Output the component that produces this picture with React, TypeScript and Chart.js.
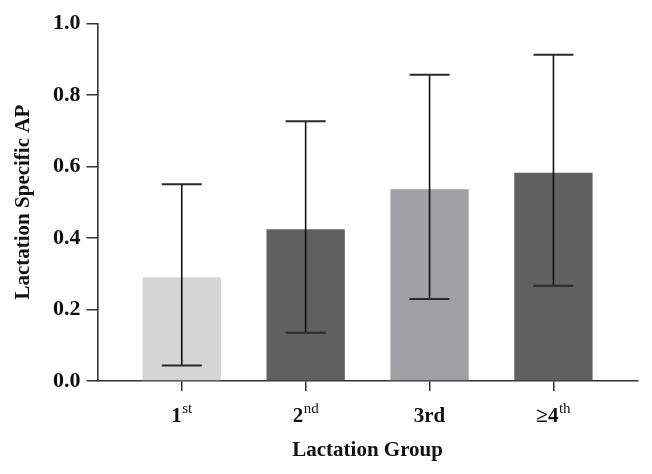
import React, { useEffect, useRef } from "react";
import { Chart, registerables } from "chart.js";

Chart.register(...registerables);

// ---- data ----
const groupMain = ["1", "2", "3rd", "≥4"];
const groupSup = ["st", "nd", "", "th"];
const groupPos = [1, 2, 3, 4];
const meanAP = [0.29, 0.424, 0.536, 0.582];
const errLower = [0.043, 0.135, 0.229, 0.266];
const errUpper = [0.55, 0.726, 0.856, 0.912];
const yTitle = "Lactation Specific AP";
const xTitle = "Lactation Group";

// ---- styles ----
const barColors = ["#d5d5d5", "#606060", "#a1a0a5", "#606060"];
const FONT = "'Liberation Serif', 'Times New Roman', serif";
const AXIS = "#333333";

const errorBarPlugin = {
  id: "errorBars",
  afterDatasetsDraw(chart: any) {
    const { ctx } = chart;
    const xs = chart.scales.x;
    const ys = chart.scales.y;
    ctx.save();
    groupPos.forEach((p, i) => {
      const x = xs.getPixelForValue(p);
      const yl = ys.getPixelForValue(errLower[i]);
      const yh = ys.getPixelForValue(errUpper[i]);
      ctx.strokeStyle = "#111";
      ctx.lineWidth = 1.6;
      ctx.beginPath();
      ctx.moveTo(x, yl);
      ctx.lineTo(x, yh);
      ctx.stroke();
      ctx.strokeStyle = "#2a2a2a";
      ctx.lineWidth = 2;
      ctx.beginPath();
      ctx.moveTo(x - 20, yh);
      ctx.lineTo(x + 20, yh);
      ctx.moveTo(x - 20, yl);
      ctx.lineTo(x + 20, yl);
      ctx.stroke();
    });
    ctx.restore();
  },
};

const xLabelPlugin = {
  id: "xLabels",
  afterDraw(chart: any) {
    const { ctx, chartArea } = chart;
    const xs = chart.scales.x;
    const baseline = chartArea.bottom + 40.7;
    ctx.save();
    ctx.fillStyle = "#111";
    ctx.textBaseline = "alphabetic";
    ctx.textAlign = "left";
    groupPos.forEach((p, i) => {
      const cx = xs.getPixelForValue(p);
      const mainFont = `bold 21px ${FONT}`;
      const supFont = `15px ${FONT}`;
      ctx.font = mainFont;
      const wm = ctx.measureText(groupMain[i]).width;
      ctx.font = supFont;
      const ws = groupSup[i] ? ctx.measureText(groupSup[i]).width + 0.5 : 0;
      const start = cx - (wm + ws) / 2;
      ctx.font = mainFont;
      ctx.fillText(groupMain[i], start, baseline);
      if (groupSup[i]) {
        ctx.font = supFont;
        ctx.fillText(groupSup[i], start + wm + 0.5, baseline - 9);
      }
    });
    ctx.restore();
  },
};

export default function App() {
  const ref = useRef<HTMLCanvasElement | null>(null);

  useEffect(() => {
    if (!ref.current) return;
    const chart = new Chart(ref.current, {
      type: "bar",
      data: {
        datasets: [
          {
            data: groupPos.map((p, i) => ({ x: p, y: meanAP[i] })),
            backgroundColor: barColors,
            borderWidth: 0,
            categoryPercentage: 1,
            barPercentage: 0.632,
          },
        ],
      },
      options: {
        animation: false,
        responsive: false,
        maintainAspectRatio: false,
        layout: { padding: { top: 23.3, right: 14.3, bottom: 0, left: 0 } },
        plugins: {
          legend: { display: false },
          tooltip: { enabled: false },
          title: { display: false },
        },
        scales: {
          x: {
            type: "linear",
            min: 0.32,
            max: 4.68,
            offset: false,
            afterBuildTicks: (scale: any) => {
              scale.ticks = groupPos.map((v) => ({ value: v }));
            },
            afterFit: (scale: any) => {
              scale.height = 93;
            },
            grid: {
              offset: false,
              drawOnChartArea: false,
              drawTicks: true,
              tickLength: 10,
              color: AXIS,
              lineWidth: 1.5,
            },
            border: { display: true, color: AXIS, width: 1.6 },
            ticks: { display: false },
            title: {
              display: true,
              text: xTitle,
              color: "#111",
              font: { family: FONT, size: 21, weight: "bold" },
              padding: { top: 0, bottom: 11 },
            },
          },
          y: {
            type: "linear",
            min: 0,
            max: 1,
            afterFit: (scale: any) => {
              scale.width = 97.5;
            },
            grid: {
              drawOnChartArea: false,
              drawTicks: true,
              tickLength: 11,
              color: AXIS,
              lineWidth: 1.5,
            },
            border: { display: true, color: AXIS, width: 1.6 },
            ticks: {
              stepSize: 0.2,
              padding: 6,
              color: "#111",
              font: { family: FONT, size: 22, weight: "bold" },
              callback: (v: any) => Number(v).toFixed(1),
            },
            title: {
              display: true,
              text: yTitle,
              color: "#111",
              font: { family: FONT, size: 21, weight: "bold" },
              padding: { top: 10.5, bottom: 0 },
            },
          },
        },
      } as any,
      plugins: [errorBarPlugin, xLabelPlugin],
    });
    return () => chart.destroy();
  }, []);

  return (
    <div style={{ position: "fixed", left: 0, top: 0, width: 652, height: 474, background: "#fff" }}>
      <canvas ref={ref} width={652} height={474} style={{ width: 652, height: 474, display: "block" }} />
    </div>
  );
}
